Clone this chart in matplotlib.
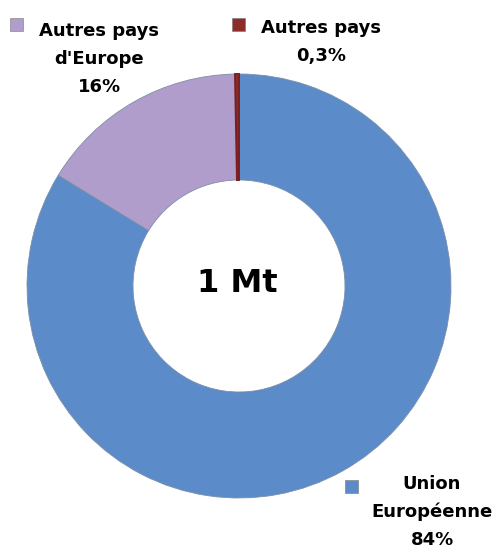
import matplotlib.pyplot as plt
from matplotlib.patches import Rectangle

# data
labels = ["Union\nEuropéenne\n84%", "Autres pays\nd'Europe\n16%", "Autres pays\n0,3%"]
shares = [84, 16, 0.3]
colors = ["#5B8BC9", "#B09DCB", "#8E2B2B"]
center_text = "1 Mt"

W, H = 496, 554
fig = plt.figure(figsize=(W / 100, H / 100), dpi=100)
ax = fig.add_axes([0, 0, 1, 1])

cx, cy, r = 239, H - 286, 212
wedges, _ = ax.pie(shares, colors=colors, startangle=90, counterclock=False,
                   center=(cx, cy), radius=r,
                   wedgeprops=dict(width=r * 0.5, edgecolor="#7D8FA8", linewidth=0.6))
# the tiny slice gets a matching outline so it reads as a thin red line
wedges[2].set_edgecolor("#7A1F1F")
wedges[2].set_linewidth(1.4)
ax.set_xlim(0, W)
ax.set_ylim(0, H)
ax.axis("off")

ax.text(cx - 2, H - 283, center_text, ha="center", va="center",
        fontsize=23, fontweight="bold", family="DejaVu Sans")

fkw = dict(ha="center", va="center", fontsize=13, fontweight="bold",
           family="DejaVu Sans", linespacing=1.7)

# label boxes: (square x, square y, text x, text y)
pos = [(345, 480, 432, 512), (10, 18, 99, 59), (232, 18, 321, 42)]
for (sx, sy, tx, ty), lab, c in zip(pos, labels, colors):
    ax.add_patch(Rectangle((sx, H - sy - 13), 13, 13, facecolor=c,
                           edgecolor="#777777", linewidth=0.4))
    ax.text(tx, H - ty, lab, **fkw)

fig.savefig("out.png", dpi=100)
